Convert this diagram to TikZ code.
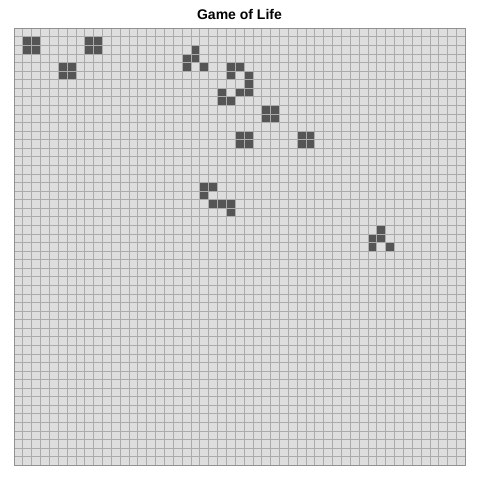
\documentclass[tikz,border=0pt]{standalone}
\usepackage{fontspec}
\setmainfont{Liberation Sans}
\definecolor{bgcol}{HTML}{DEDEDE}
\definecolor{linecol}{HTML}{ABABAB}
\definecolor{livecol}{HTML}{555555}
\begin{document}
\begin{tikzpicture}[x=1pt,y=-1pt,
  gridline/.style={draw=linecol,line width=0.8pt},
  livecell/.style={fill=livecol,draw=linecol,line width=0.8pt},
  titletext/.style={font=\bfseries\fontsize{14}{16}\selectfont,anchor=base}]
\useasboundingbox (0,0) rectangle (480,480);
\pgfmathsetmacro{\gx}{14}
\pgfmathsetmacro{\gy}{28.3}
\pgfmathsetmacro{\cw}{451.3/51}
\pgfmathsetmacro{\ch}{437/51}
\fill[bgcol] (\gx,\gy) rectangle ({\gx+51*\cw},{\gy+51*\ch});
\foreach \i in {0,...,51}{
  \draw[gridline] ({\gx+\i*\cw},\gy) -- ({\gx+\i*\cw},{\gy+51*\ch});
  \draw[gridline] (\gx,{\gy+\i*\ch}) -- ({\gx+51*\cw},{\gy+\i*\ch});
}
\foreach \c/\r in {1/1,2/1,1/2,2/2, 8/1,9/1,8/2,9/2, 5/4,6/4,5/5,6/5,
  20/2,19/3,20/3,19/4,21/4,
  24/4,25/4,24/5,26/5,26/6,23/7,25/7,26/7,23/8,24/8,
  28/9,29/9,28/10,29/10,
  25/12,26/12,25/13,26/13, 32/12,33/12,32/13,33/13,
  21/18,22/18,21/19,22/20,23/20,24/20,24/21,
  41/23,40/24,41/24,40/25,42/25}{
  \draw[livecell] ({\gx+\c*\cw},{\gy+\r*\ch}) rectangle ({\gx+(\c+1)*\cw},{\gy+(\r+1)*\ch});
}
\draw[draw=linecol!85!black,line width=1pt] (\gx,\gy) rectangle ({\gx+51*\cw},{\gy+51*\ch});
\node[titletext] (title) at (239.5,19.3) {Game of Life};
\end{tikzpicture}
\end{document}
